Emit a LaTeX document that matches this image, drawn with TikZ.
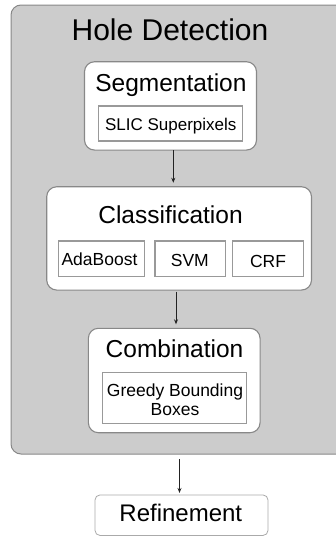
\documentclass[tikz,border=0pt]{standalone}
\usepackage{fontspec}
\setmainfont{Liberation Sans}
\usetikzlibrary{arrows.meta}
\definecolor{panelgrey}{HTML}{CCCCCC}
\definecolor{edgegrey}{HTML}{888888}
\definecolor{methodedge}{HTML}{999999}
\definecolor{lightedge}{HTML}{AAAAAA}
\definecolor{inkgrey}{HTML}{222222}
\begin{document}
\begin{tikzpicture}[x=1pt,y=-1pt,
  panel/.style={draw=edgegrey,line width=1pt,fill=panelgrey,rounded corners=10pt,inner sep=0pt,outer sep=0pt},
  stage/.style={draw=edgegrey,line width=1.1pt,fill=white,rounded corners=10pt,inner sep=0pt,outer sep=0pt},
  method/.style={draw=methodedge,line width=1.1pt,fill=white,inner sep=0pt,outer sep=0pt},
  final/.style={draw=lightedge,line width=0.8pt,fill=white,rounded corners=5pt,inner sep=0pt,outer sep=0pt},
  txt/.style={inner sep=0pt,anchor=base,text=black},
  flow/.style={draw=inkgrey,line width=0.8pt,-{Stealth[length=5pt,width=4pt]}}]
\useasboundingbox (0,0) rectangle (336,536);
\clip (0,0) rectangle (336,536);

% outer panel
\node[panel,minimum width=339pt,minimum height=449pt] (panel) at (180.5,229.5) {};
\node[txt,font=\fontsize{30}{36}\selectfont] (title) at (170,40.7) {Hole Detection};

% segmentation stage
\node[stage,minimum width=172pt,minimum height=88.3pt] (seg) at (170.5,105.9) {};
\node[txt,font=\fontsize{24.5}{29}\selectfont] (segtxt) at (170.9,91.7) {Segmentation};
\node[method,minimum width=144.2pt,minimum height=35pt] (slic) at (170.4,123.5) {};
\node[txt,font=\fontsize{17}{20}\selectfont] (slictxt) at (170.8,130) {SLIC Superpixels};

% classification stage
\node[stage,minimum width=264.8pt,minimum height=103.3pt] (cls) at (179.1,238.4) {};
\node[txt,font=\fontsize{24.5}{29}\selectfont] (clstxt) at (170.5,223) {Classification};
\node[method,minimum width=86.2pt,minimum height=35.5pt] (ada) at (101.4,258.7) {};
\node[txt,font=\fontsize{17.5}{21}\selectfont] (adatxt) at (99.5,265) {AdaBoost};
\node[method,minimum width=70.7pt,minimum height=35.5pt] (svm) at (190.35,258.7) {};
\node[txt,font=\fontsize{17.5}{21}\selectfont] (svmtxt) at (189.8,266) {SVM};
\node[method,minimum width=71pt,minimum height=35.5pt] (crf) at (267.8,258.7) {};
\node[txt,font=\fontsize{17.5}{21}\selectfont] (crftxt) at (268,267.3) {CRF};

% combination stage
\node[stage,minimum width=171.7pt,minimum height=104.4pt] (comb) at (174.2,380.5) {};
\node[txt,font=\fontsize{24.5}{29}\selectfont] (combtxt) at (174.5,357.3) {Combination};
\node[method,minimum width=144.4pt,minimum height=50.6pt] (greedy) at (174.5,398) {};
\node[txt,font=\fontsize{17.5}{21}\selectfont] (greedya) at (175,396) {Greedy Bounding};
\node[txt,font=\fontsize{17.5}{21}\selectfont] (greedyb) at (175,415.5) {Boxes};

% refinement
\node[final,minimum width=173pt,minimum height=40.5pt] (ref) at (181.5,515.2) {};
\node[txt,font=\fontsize{24}{29}\selectfont] (reftxt) at (180.8,521.7) {Refinement};

% connectors
\draw[flow,shorten >=4pt] ([xshift=2.8pt]seg.south) -- ([xshift=2.8pt]seg.south |- cls.north);
\draw[flow,shorten <=1.5pt,shorten >=4pt] ([xshift=1.8pt]comb.north |- cls.south) -- ([xshift=1.8pt]comb.north);
\draw[flow,shorten <=5pt,shorten >=2pt] ([xshift=-2pt]ref.north |- panel.south) -- ([xshift=-2pt]ref.north);
\end{tikzpicture}
\end{document}
